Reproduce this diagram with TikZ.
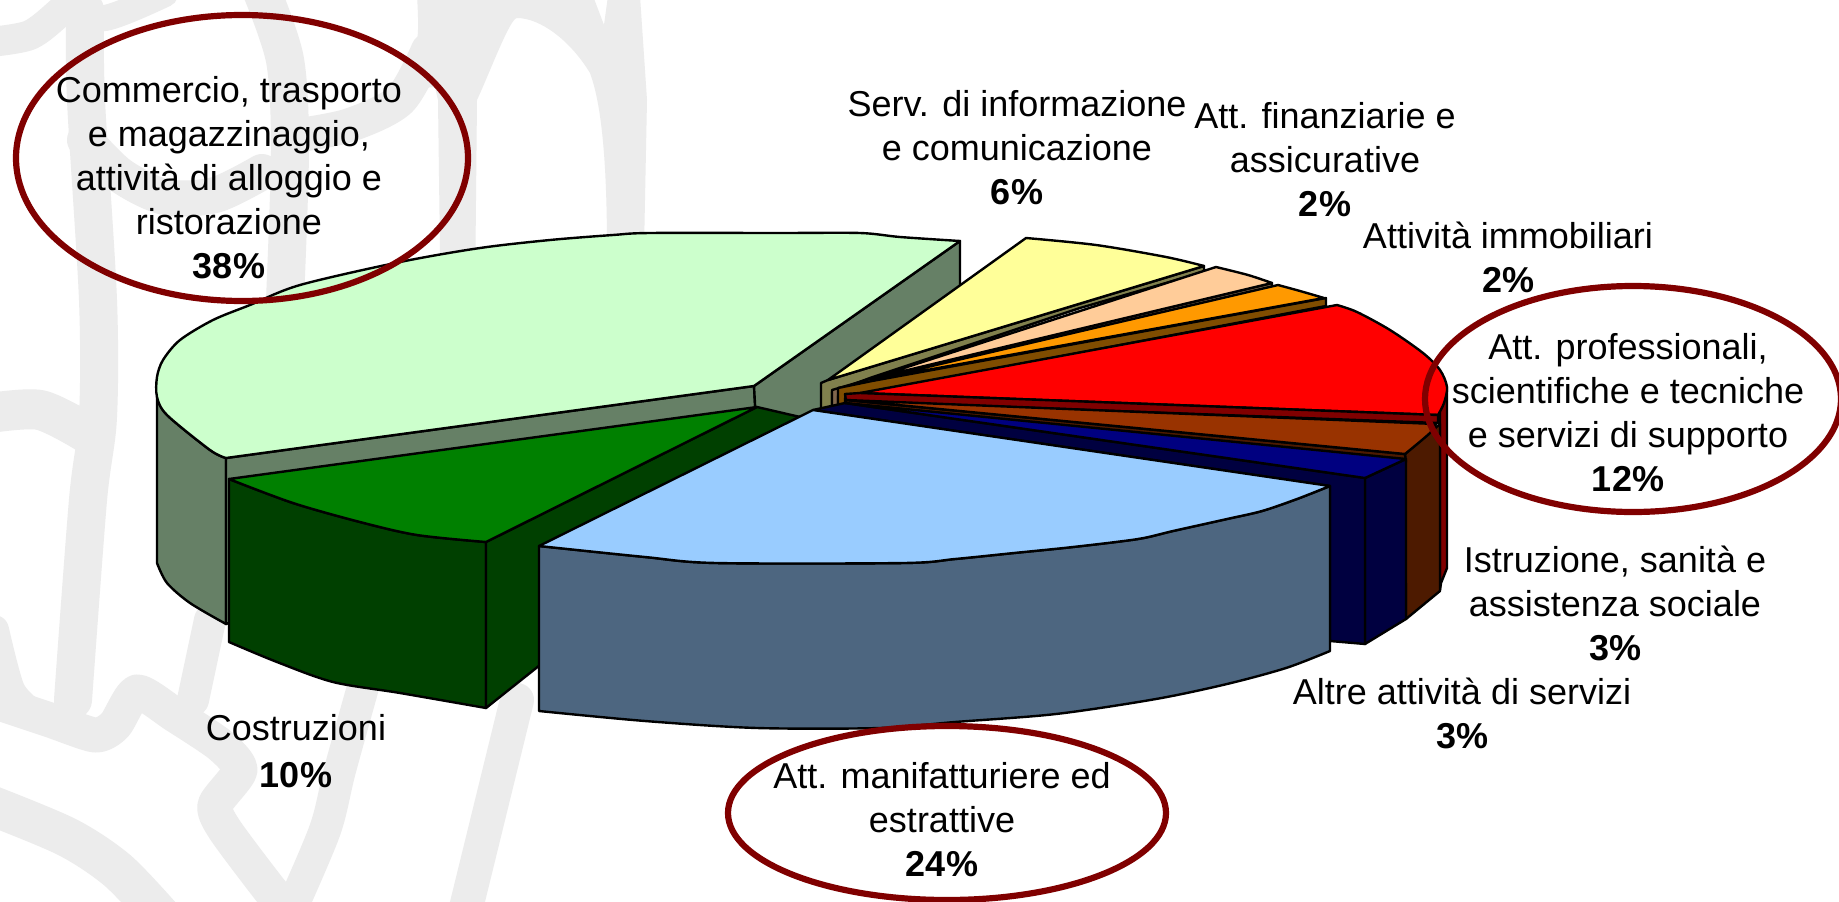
\documentclass[tikz,border=0pt]{standalone}
\usepackage{fontspec}
\setmainfont{Liberation Sans}
\definecolor{wm}{HTML}{ECECEC}
\definecolor{ring}{HTML}{800000}
\definecolor{lgreenT}{HTML}{CCFFCC}
\definecolor{lgreenS}{HTML}{668066}
\definecolor{dgreenT}{HTML}{008000}
\definecolor{dgreenS}{HTML}{004000}
\definecolor{blueT}{HTML}{99CCFF}
\definecolor{blueS}{HTML}{4D6680}
\definecolor{navyT}{HTML}{000080}
\definecolor{navyS}{HTML}{000040}
\definecolor{rustT}{HTML}{993300}
\definecolor{rustS}{HTML}{4D1A00}
\definecolor{redT}{HTML}{FF0000}
\definecolor{redS}{HTML}{800000}
\definecolor{orangeT}{HTML}{FF9900}
\definecolor{orangeS}{HTML}{804D00}
\definecolor{peachT}{HTML}{FFCC99}
\definecolor{peachS}{HTML}{80664D}
\definecolor{yellowT}{HTML}{FFFF99}
\definecolor{yellowS}{HTML}{80804D}
\tikzset{
  wmband/.style={draw=wm,line width=#1,line cap=round,line join=round},
  wmband/.default=34pt,
  face/.style={draw=black,line width=2.4pt,line join=round,fill=#1},
  ringel/.style={draw=ring,line width=6.2pt},
  lab/.style={align=center,inner sep=0pt,font=\fontsize{36}{44}\selectfont,text=black},
  rim/.style={smooth,tension=.5}
}
\begin{document}
\begin{tikzpicture}[x=1pt,y=-1pt]
\useasboundingbox (0,0) rectangle (1839,902);
\clip (0,0) rectangle (1839,902);
\fill[white] (0,0) rectangle (1839,902);
% watermark
\fill[wm] plot[smooth,tension=.4] coordinates {(417,-4)(417,40)(395,90)} -- (435,87) -- (438,100)
  -- (440,253) -- (435,300) -- (475,300) -- (477,100)
  .. controls (490,72) and (510,18) .. (517,18) .. controls (540,18) and (570,40) .. (590,73)
  .. controls (600,100) and (607,150) .. (607,250) -- (602,300) -- (643,300) -- (647,100) -- (640,-4)
  -- (608,-4) -- (604,25) -- (593,-4) -- cycle;
\draw[wmband] plot[smooth] coordinates {(428,50)(400,100)(350,125)(300,135)};
\draw[wmband=30pt] plot[smooth] coordinates {(-10,42)(30,35)(60,12)(80,-8)};
\draw[wmband=26pt] plot[smooth] coordinates {(60,10)(105,18)(165,-6)};
\draw[wmband=38pt] plot[smooth] coordinates {(85,10)(86,100)(98,300)(98,417)(88,500)(73,700)};
\draw[wmband=36pt] plot[smooth] coordinates {(85,140)(120,175)(165,197)(215,195)(262,172)};
\draw[wmband=38pt] plot[smooth] coordinates {(262,-8)(285,60)(290,150)(285,300)};
\draw[wmband=40pt] plot[smooth] coordinates {(-10,413)(40,410)(85,432)};
\draw[wmband=35pt] plot[smooth,tension=.4] coordinates {(-10,700)(50,720)(95,735)(115,725)(137,692)(175,715)(220,745)(240,770)(215,805)(225,830)(270,890)(290,912)};
\draw[wmband=30pt] plot[smooth] coordinates {(-6,630)(10,690)(30,712)};
\draw[wmband=40pt] plot[smooth] coordinates {(-10,805)(67,837)(117,870)(160,915)};
\draw[wmband=32pt] plot[smooth] coordinates {(210,620)(193,700)};
\draw[wmband=32pt] plot[smooth] coordinates {(365,680)(340,770)(325,830)(290,912)};
\draw[wmband=34pt] plot[smooth] coordinates {(517,700)(465,912)};
% red side (behind everything on the right)
\draw[face=redS] (1440,400) -- (1447,387) -- (1447,568) -- (1441,583) -- (1440,590) -- cycle;
% light green slice: sides
\draw[face=lgreenS] (157,397) -- plot[rim] coordinates {(157,397)(167,415)(210,450)(226,458)} -- (226,624)
  -- plot[rim] coordinates {(226,624)(190,603)(167,583)(157,563)} -- cycle;
\draw[face=lgreenS] (226,458) -- (754,386) -- (757,438) -- (226,624) -- cycle;
\draw[face=lgreenS] (754,386) -- (960,241) -- (960,300) -- (830,400) -- (820,440) -- (757,440) -- cycle;
% small slices: cut faces and tops, back to front
\draw[face=yellowS] (821,383) -- (828,380) -- (1204,266) -- (1204,272) -- (1080,308) -- (870,378) -- (832,392) -- (832,412) -- (821,412) -- cycle;
\draw[face=yellowT] (828,380) -- (1026,238) -- plot[rim] coordinates {(1026,238)(1096,245)(1166,257)(1204,266)} -- cycle;
\draw[face=peachS] (832,390) -- (870,379) -- (1272,283) -- (1272,289) -- (1080,332) -- (870,384) -- (838,396) -- (838,412) -- (832,412) -- cycle;
\draw[face=peachT] (870,379) -- (1216,267) -- plot[rim] coordinates {(1216,267)(1248,275)(1272,283)} -- cycle;
\draw[face=orangeS] (838,388) -- (872,381) -- (1326,298) -- (1326,306) -- (862,394) -- (845,398) -- (845,412) -- (838,412) -- cycle;
\draw[face=orangeT] (872,380) -- (1278,285) -- plot[rim] coordinates {(1278,285)(1300,291)(1324,298)} -- cycle;
\draw[face=redT] (860,393) -- (1337,305) -- plot[rim] coordinates {(1337,305)(1357,312)(1390,330)(1423,353)(1440,370)(1447,387)(1444,403)(1438,415)} -- cycle;
\draw[face=redS] (845,394) -- (860,393) -- (1438,415) -- (1438,423) -- (846,401) -- cycle;
% rust slice
\draw[face=rustS] (1405,454) -- (1440,424) -- (1440,591) -- (1406,619) -- cycle;
\draw[face=rustS] (846,400) -- (1405,454) -- (1406,462) -- (845,407) -- cycle;
\draw[face=rustT] (846,400) -- (1436,424) -- plot[rim] coordinates {(1436,424)(1430,433)(1405,454)} -- cycle;
% navy slice
\draw[face=navyS] (1365,478) -- (1406,459) -- (1406,619) -- (1365,644) -- cycle;
\draw[face=navyS] (845,403) -- (1365,478) -- (1365,644) -- (1330,641) -- (1330,486) -- (813,410) -- cycle;
\draw[face=navyT] (845,403) -- (1406,459) -- (1365,478) -- cycle;
% light green top
\draw[face=lgreenT] (754,386) -- (960,241) -- plot[rim] coordinates {(960,241)(900,237)(860,233)(780,233)(650,233)(613,235)(550,240)(480,248)(400,262)(300,285)(250,305)(213,320)(180,340)(163,360)(157,377)(157,397)(167,415)(210,450)(226,458)} -- cycle;
% dark green slice
\draw[face=dgreenS] (229,479) -- plot[rim] coordinates {(229,479)(293,503)(360,522)(417,535)(486,542)} -- (486,708)
  -- plot[rim] coordinates {(486,708)(400,693)(333,682)(277,662)(229,642)} -- cycle;
\draw[face=dgreenS] (757,407) -- (486,542) -- (486,708) -- (540,665) -- (813,420) -- cycle;
\draw[face=dgreenT] (757,407) -- (229,479) -- plot[rim] coordinates {(229,479)(293,503)(360,522)(417,535)(486,542)} -- cycle;
% light blue slice
\draw[face=blueS] (539,546) -- plot[rim] coordinates {(539,546)(645,557)(716,563)(904,563)(955,559)(1014,553)(1073,547)(1138,539)(1173,531)(1227,519)(1262,511)(1297,499)(1330,486)} -- (1330,651)
  -- plot[rim] coordinates {(1330,651)(1286,668)(1227,684)(1156,699)(1056,714)(955,722)(880,728)(757,728)(645,721)(539,711)} -- cycle;
\draw[face=blueT] (813,410) -- (539,546) -- plot[rim] coordinates {(539,546)(645,557)(716,563)(904,563)(955,559)(1014,553)(1073,547)(1138,539)(1173,531)(1227,519)(1262,511)(1297,499)(1330,486)} -- cycle;
% highlight rings
\draw[ringel] (242,158) ellipse [x radius=226pt,y radius=143pt];
\draw[ringel] (1633,399) ellipse [x radius=208pt,y radius=113pt];
\draw[ringel] (947,813) ellipse [x radius=219pt,y radius=87pt];
% labels
\node[lab] (commercio) at (229,178) {Commercio, trasporto\\e magazzinaggio,\\attività di alloggio e\\ristorazione\\\textbf{38\%}};
\node[lab] (informazione) at (1017,148) {Serv. di informazione\\e comunicazione\\\textbf{6\%}};
\node[lab] (finanziarie) at (1325,160) {Att. finanziarie e\\assicurative\\\textbf{2\%}};
\node[lab] (immobiliari) at (1508,257) {Attività immobiliari\\\textbf{2\%}};
\node[lab] (professionali) at (1628,413) {Att. professionali,\\scientifiche e tecniche\\e servizi di supporto\\\textbf{12\%}};
\node[lab] (istruzione) at (1615,603) {Istruzione, sanità e\\assistenza sociale\\\textbf{3\%}};
\node[lab] (altre) at (1462,713) {Altre attività di servizi\\\textbf{3\%}};
\node[lab] (costruzioni) at (296,751) {Costruzioni\\[3pt]\textbf{10\%}};
\node[lab] (manifatturiere) at (942,820) {Att. manifatturiere ed\\estrattive\\\textbf{24\%}};
\end{tikzpicture}
\end{document}
